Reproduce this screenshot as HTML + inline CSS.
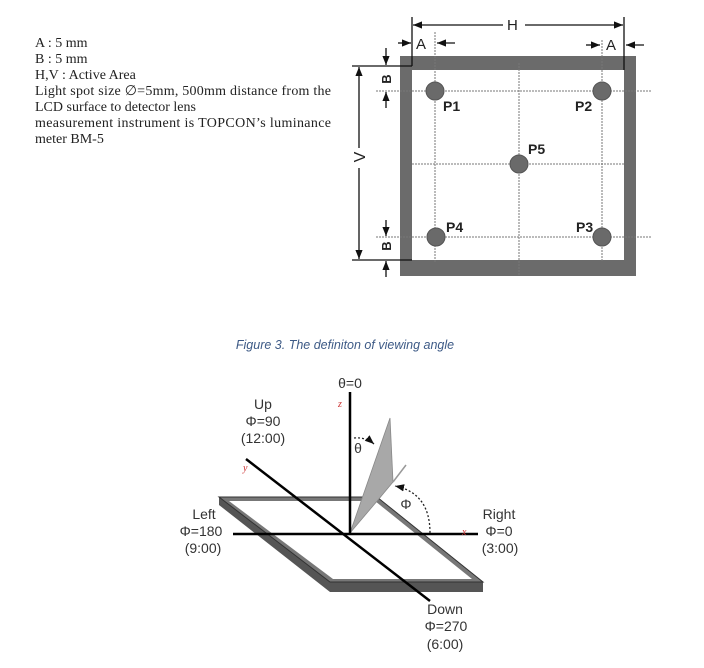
<!DOCTYPE html>
<html><head><meta charset="utf-8"><style>
html,body{margin:0;padding:0;background:#fff;width:704px;height:668px;overflow:hidden}
svg{display:block}
.s{font-family:"Liberation Serif",serif;font-size:14px;fill:#222}
.a{font-family:"Liberation Sans",sans-serif;fill:#222}
.c{font-family:"Liberation Sans",sans-serif;font-size:14px;fill:#333;text-anchor:middle}
</style></head><body>
<svg width="704" height="668" viewBox="0 0 704 668" xmlns="http://www.w3.org/2000/svg">
<defs>
<marker id="ar" viewBox="0 0 10 10" refX="10" refY="5" markerWidth="7" markerHeight="7" orient="auto"><path d="M0,1 L10,5 L0,9 z" fill="#111"/></marker>
</defs>
<g class="s">
<text x="35" y="47">A : 5 mm</text>
<text x="35" y="63">B : 5 mm</text>
<text x="35" y="79">H,V : Active Area</text>
<text x="35" y="95" textLength="296">Light spot size ∅=5mm, 500mm distance from the</text>
<text x="35" y="111">LCD surface to detector lens</text>
<text x="35" y="127" textLength="296">measurement instrument is TOPCON’s luminance</text>
<text x="35" y="143">meter BM-5</text>
</g>
<rect x="400" y="56" width="236" height="220" fill="#6b6b6b"/>
<rect x="412" y="70" width="212" height="190" fill="#fff"/>
<g stroke="#777" stroke-width="1" stroke-dasharray="2,1" fill="none">
<line x1="376" y1="91" x2="651" y2="91"/>
<line x1="412" y1="164" x2="624" y2="164"/>
<line x1="376" y1="237" x2="651" y2="237"/>
<line x1="435" y1="32" x2="435" y2="262"/>
<line x1="519" y1="63" x2="519" y2="276"/>
<line x1="602" y1="40" x2="602" y2="262"/>
</g>
<g fill="#6a6a6a" stroke="#555">
<circle cx="435" cy="91" r="9"/><circle cx="602" cy="91" r="9"/><circle cx="519" cy="164" r="9"/><circle cx="436" cy="237" r="9"/><circle cx="602" cy="237" r="9"/>
</g>
<g class="a" font-size="14" font-weight="bold">
<text x="443" y="111">P1</text><text x="575" y="111">P2</text><text x="528" y="154">P5</text><text x="446" y="232">P4</text><text x="576" y="232">P3</text>
</g>
<g stroke="#111" stroke-width="1.3" fill="none">
<line x1="412" y1="17" x2="412" y2="66"/><line x1="624" y1="17" x2="624" y2="70"/>
<line x1="503" y1="25" x2="413" y2="25" marker-end="url(#ar)"/>
<line x1="525" y1="25" x2="623" y2="25" marker-end="url(#ar)"/>
<line x1="398" y1="43" x2="411" y2="43" marker-end="url(#ar)"/>
<line x1="455" y1="43" x2="437" y2="43" marker-end="url(#ar)"/>
<line x1="586" y1="45" x2="600" y2="45" marker-end="url(#ar)"/>
<line x1="644" y1="45" x2="626" y2="45" marker-end="url(#ar)"/>
<line x1="352" y1="66" x2="412" y2="66"/><line x1="352" y1="260" x2="412" y2="260"/>
<line x1="359" y1="148" x2="359" y2="67" marker-end="url(#ar)"/>
<line x1="359" y1="168" x2="359" y2="259" marker-end="url(#ar)"/>
<line x1="386" y1="48" x2="386" y2="65" marker-end="url(#ar)"/>
<line x1="386" y1="108" x2="386" y2="92" marker-end="url(#ar)"/>
<line x1="386" y1="220" x2="386" y2="236" marker-end="url(#ar)"/>
<line x1="386" y1="277" x2="386" y2="261" marker-end="url(#ar)"/>
</g>
<g class="a" font-size="15">
<text x="507" y="30">H</text>
<text x="416" y="49">A</text><text x="606" y="50">A</text>
<text transform="translate(365,157) rotate(-90)" text-anchor="middle" font-size="16">V</text>
<text transform="translate(391,79) rotate(-90)" text-anchor="middle" font-size="13" font-weight="bold">B</text>
<text transform="translate(391,246) rotate(-90)" text-anchor="middle" font-size="13" font-weight="bold">B</text>
</g>
<text x="345" y="349" text-anchor="middle" font-family="Liberation Sans,sans-serif" font-style="italic" font-size="12.5" fill="#3d5a86">Figure 3. The definiton of viewing angle</text>
<polygon points="219,497 377,497 483,582 483,592 330,592 219,505" fill="#555"/>
<polygon points="219,497 377,497 483,582 330,582" fill="#777" stroke="#333" stroke-width="1"/>
<polygon points="229,501 375,501 472,579 333,579" fill="#fff"/>
<polygon points="350,533 390,418 393,482 378,500" fill="#a8a8a8" stroke="#888" stroke-width="0.8"/>
<line x1="393" y1="482" x2="406" y2="465" stroke="#999" stroke-width="1.5"/>
<g stroke="#000" stroke-width="2.5">
<line x1="350" y1="392" x2="350" y2="534"/>
<line x1="233" y1="534" x2="478" y2="534"/>
<line x1="246" y1="459" x2="430" y2="601"/>
</g>
<g stroke="#222" stroke-width="1.3" stroke-dasharray="2,2" fill="none">
<path d="M354,438 Q366,437 374,444" marker-end="url(#ar)"/>
<path d="M430,533 Q430,493 395,486" marker-end="url(#ar)"/>
</g>
<g class="c">
<text x="350" y="388">θ=0</text>
<text x="358" y="453">θ</text>
<text x="406" y="509">Φ</text>
<text x="263" y="409">Up</text><text x="263" y="426">Φ=90</text><text x="263" y="443">(12:00)</text>
<text x="204" y="519">Left</text><text x="201" y="536">Φ=180</text><text x="203" y="553">(9:00)</text>
<text x="499" y="519">Right</text><text x="499" y="536">Φ=0</text><text x="500" y="553">(3:00)</text>
<text x="445" y="614">Down</text><text x="446" y="631">Φ=270</text><text x="445" y="649">(6:00)</text>
</g>
<g font-family="Liberation Serif,serif" font-size="10" fill="#c33" font-style="italic">
<text x="338" y="407">z</text><text x="243" y="471">y</text><text x="462" y="535">x</text>
</g>
</svg>
</body></html>
